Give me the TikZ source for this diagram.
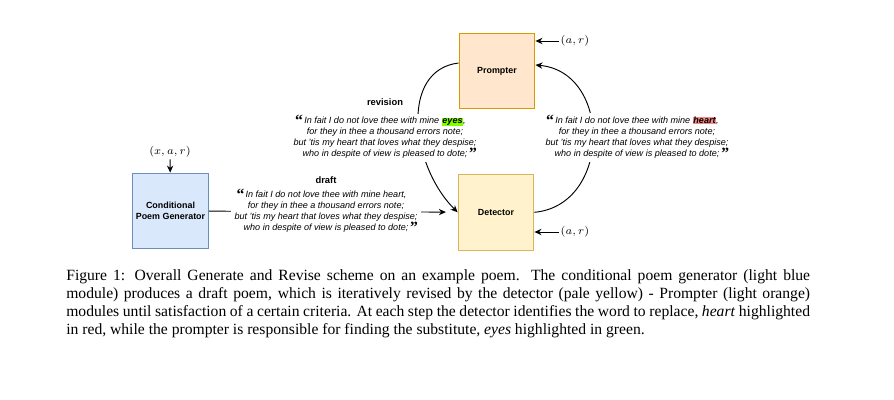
\documentclass[tikz,border=0pt]{standalone}
\usepackage{fontspec}
\setmainfont{Liberation Serif}
\setsansfont{Liberation Sans}
\usetikzlibrary{arrows,arrows.meta,positioning,calc}
\definecolor{genfill}{HTML}{DAE8FC}
\definecolor{gendraw}{HTML}{6C8EBF}
\definecolor{promptfill}{HTML}{FFE6CC}
\definecolor{promptdraw}{HTML}{D79B00}
\definecolor{detectfill}{HTML}{FFF2CC}
\definecolor{detectdraw}{HTML}{D6B656}
\definecolor{eyesgreen}{HTML}{80FF00}
\definecolor{heartred}{HTML}{F48C8A}
\newcommand{\poemquote}[1]{\smash{\raisebox{-1pt}{\rmfamily\upshape\bfseries\fontsize{10}{10}\selectfont #1}}}
\newcommand{\hilite}[2]{{\setlength{\fboxsep}{0.4pt}\colorbox{#1}{\bfseries #2}}}
\newcommand{\sonnet}[1]{%
\llap{\poemquote{“}\hspace{0.8pt}}In fait I do not love thee with mine #1,\\
for they in thee a thousand errors note;\\
but 'tis my heart that loves what they despise;\\
who in despite of view is pleased to dote;\rlap{\hspace{1.2pt}\poemquote{”}}}
\tikzset{
module/.style={
    rectangle,
    minimum width=48.5pt,
    minimum height=48.5pt,
    inner sep=1pt,
    line width=0.65pt,
    align=center,
    font=\sffamily\bfseries\fontsize{5.7}{7}\selectfont
},
generator/.style={
    module,
    draw=gendraw,
    fill=genfill
},
prompter/.style={
    module,
    draw=promptdraw,
    fill=promptfill
},
detector/.style={
    module,
    draw=detectdraw,
    fill=detectfill
},
poem/.style={
    fill=white,
    inner sep=2pt,
    align=center,
    font=\sffamily\itshape\fontsize{5.8}{7}\selectfont
},
edgename/.style={
    inner sep=1pt,
    font=\sffamily\bfseries\fontsize{6}{7}\selectfont
},
modinput/.style={
    inner sep=1pt,
    font=\fontsize{6.6}{8}\selectfont
},
flow/.style={
    black,line width=0.6pt,>={Stealth[length=4.5pt,width=4pt]}
},
}

\begin{document}
\begin{tikzpicture}[x=0.64pt,y=-0.64pt]

\path[fill=white,use as bounding box] (0,0) rectangle (894,400);

% modules
\node [generator] (gen) at (170.5,211) {Conditional\\Poem Generator};
\node [prompter] (prompter) at (497,71) {Prompter};
\node [detector] (detector) at (496,212.3) {Detector};
%
\node [modinput] (genin) at (170,152) {$(x,a,r)$};
\node [modinput] (promptin) at (575,41) {$(a,r)$};
\node [modinput] (detectin) at (575,232) {$(a,r)$};
\draw [->,flow] (genin) -- (gen);
\draw [->,flow] (promptin) -- (promptin -| prompter.east);
\draw [->,flow] (detectin) -- (detectin -| detector.east);
%
\draw [->,flow,shorten >=7.5pt] (gen) -- (detector);
\draw [->,flow] ($ (prompter.west) + (0,-8) $) .. controls +(-59,7) and +(-47,-47) .. (detector.west);
\draw [->,flow] (detector.east) .. controls +(77,-7) and +(77,7) .. ($ (prompter.east) + (0,-6) $);

% edge labels
\node [poem] (draftpoem) at (326,212) {\sonnet{heart}};
\node [poem] (revpoem) at (385,138) {\sonnet{\hilite{eyesgreen}{eyes}}};
\node [poem] (heartpoem) at (637,137.5) {\sonnet{\hilite{heartred}{heart}}};
\node [edgename,above=1.5pt of draftpoem] (draftname) {draft};
\node [edgename,above=4pt of revpoem] (revname) {revision};

% caption
\node [anchor=north west,inner sep=0pt,text width=476pt,align=justify,
       font=\rmfamily\fontsize{10}{11.7}\selectfont] (caption) at (66,269)
{Figure 1: Overall Generate and Revise scheme on an example poem.  The conditional poem generator (light blue\linebreak
module) produces a draft poem, which is iteratively revised by the detector (pale yellow) - Prompter (light orange)\linebreak
modules until satisfaction of a certain criteria. At each step the detector identifies the word to replace, \emph{heart} highlighted\linebreak
in red, while the prompter is responsible for finding the substitute, \emph{eyes} highlighted in green.};

\end{tikzpicture}
\end{document}
